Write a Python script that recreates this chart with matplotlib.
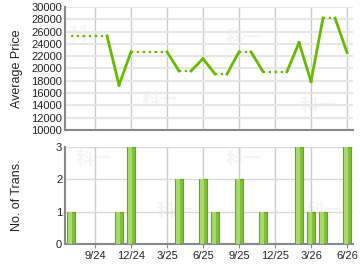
import matplotlib
matplotlib.use('Agg')
import matplotlib.pyplot as plt

plt.rcParams['font.family'] = ['Liberation Sans', 'DejaVu Sans']

# monthly data, 7/24 .. 6/26
months = list(range(24))
price = [25300, 25300, 25300, 25300, 17300, 22700, 22700, 22700, 22700,
         19600, 19600, 21600, 19100, 19100, 22700, 22700, 19500, 19500,
         19500, 24200, 17900, 28200, 28200, 22600]
trans = [1, 0, 0, 0, 1, 3, 0, 0, 0, 2, 0, 2, 1, 0, 2, 0, 1, 0, 0, 3, 1, 1, 0, 3]
tick_pos = [2, 5, 8, 11, 14, 17, 20, 23]
tick_labels = ['9/24', '12/24', '3/25', '6/25', '9/25', '12/25', '3/26', '6/26']

green = '#66bb00'

fig = plt.figure(figsize=(3.6, 2.7), dpi=100)
ax1 = fig.add_axes([0.1806, 0.5185, 0.8, 0.4556])
ax2 = fig.add_axes([0.1806, 0.0963, 0.8, 0.3593])

for ax in (ax1, ax2):
    ax.set_xlim(-0.5, 23.5)
    ax.set_xticks(tick_pos)
    for s in ('top', 'right'):
        ax.spines[s].set_visible(False)
    for s in ('left', 'bottom'):
        ax.spines[s].set_color('#888888')
        ax.spines[s].set_linewidth(1.5)
    ax.set_axisbelow(True)
    ax.tick_params(labelsize=8, colors='#222222', length=0, pad=2)
    ax.grid(True, axis='x', color='#cccccc', linewidth=1)

# watermark
for ax, pts in ((ax1, [(0.08, 0.78), (0.33, 0.25), (0.62, 0.75), (0.88, 0.2)]),
                (ax2, [(0.1, 0.88), (0.38, 0.35), (0.62, 0.88), (0.9, 0.35)])):
    for x, y in pts:
        ax.text(x, y, '科一', transform=ax.transAxes, fontsize=13, color='#f4f4f4',
                family=['Noto Sans CJK SC'], fontweight='bold',
                ha='center', va='center', zorder=0)

# price line
ax1.set_ylim(10000, 30000)
ax1.set_yticks(range(10000, 30001, 2000))
ax1.grid(True, axis='y', color='#e6e6e6', linewidth=1.5)
ax1.set_xticklabels([])
for i in range(len(months) - 1):
    seg_x = [months[i], months[i + 1]]
    seg_y = [price[i], price[i + 1]]
    if trans[i + 1] == 0:
        ax1.plot(seg_x, seg_y, color=green, linewidth=1.6,
                 linestyle=(0, (1, 1.6)), solid_capstyle='butt')
    else:
        ax1.plot(seg_x, seg_y, color=green, linewidth=2)
ax1.set_ylabel('Average Price', fontsize=9, color='#222222')
ax1.yaxis.set_label_coords(-0.146, 0.5)

# transactions
ax2.set_ylim(0, 3)
ax2.set_yticks([0, 1, 2, 3])
ax2.grid(True, axis='y', color='#d8d8d8', linewidth=1)
ax2.bar(months, trans, width=0.66, color='#7cc234', edgecolor='#5faa10',
        linewidth=0.8, zorder=2)
ax2.bar([m - 0.08 for m in months], trans, width=0.3, color='#a6da6a',
        linewidth=0, zorder=3)
ax2.set_xticklabels(tick_labels)
ax2.tick_params(axis='x', length=3, color='#888888', pad=2)
ax2.set_ylabel('No. of Trans.', fontsize=9, color='#222222')
ax2.yaxis.set_label_coords(-0.146, 0.5)

fig.savefig('out.png', dpi=100, facecolor='white')
